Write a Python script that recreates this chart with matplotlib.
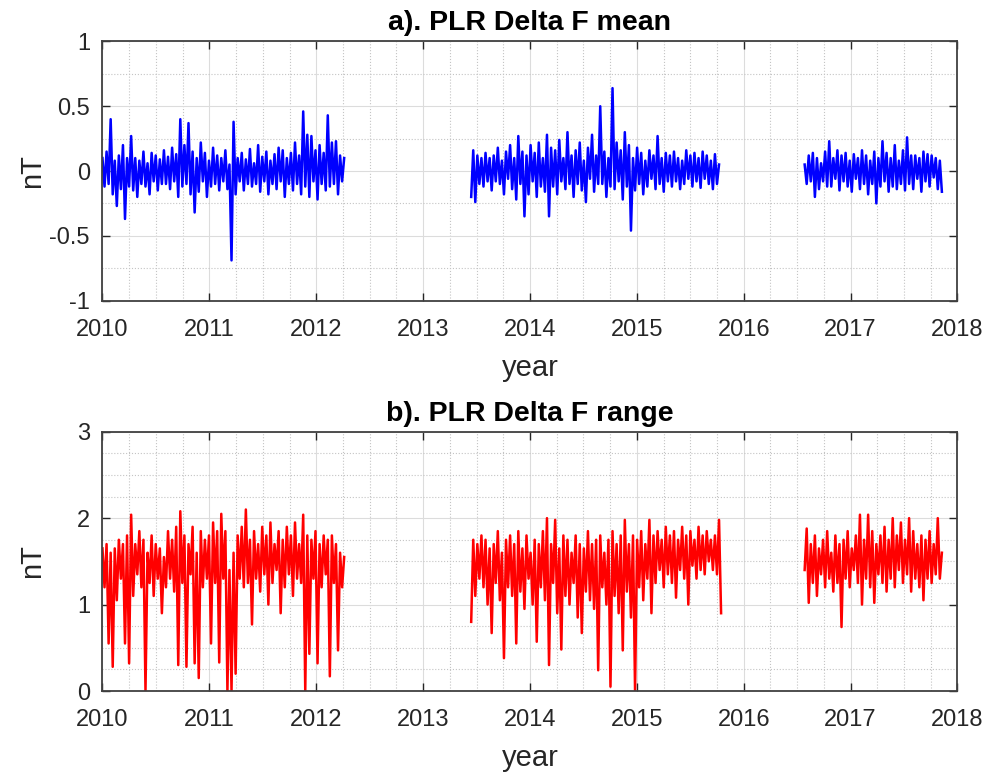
import matplotlib
matplotlib.use("Agg")
import matplotlib.pyplot as plt
from matplotlib.ticker import MultipleLocator, FuncFormatter
import numpy as np

plt.rcParams['font.family'] = ['Liberation Sans', 'DejaVu Sans']
plt.rcParams['axes.unicode_minus'] = False

# weekly samples, three data segments (decimal year of first sample)
step_days = 7
seg_start = [2010.0, 2013.45, 2016.57]

mean1 = [0.10, -0.12, 0.15, -0.10, 0.40, -0.18, 0.08, -0.27, 0.12, -0.14,
         0.20, -0.37, 0.10, -0.12, 0.27, -0.15, 0.10, -0.20, 0.08, -0.10,
         0.15, -0.12, 0.06, -0.18, 0.14, -0.08, 0.12, -0.15, 0.09, -0.10,
         0.16, -0.10, 0.11, -0.14, 0.18, -0.08, 0.13, -0.20, 0.40, -0.12,
         0.20, -0.10, 0.37, -0.18, 0.15, -0.32, 0.10, -0.16, 0.22, -0.08,
         0.14, -0.20, 0.08, -0.12, 0.18, -0.10, 0.12, -0.15, 0.10, -0.08,
         0.16, -0.14, 0.05, -0.69, 0.38, -0.18, 0.10, -0.08, 0.14, -0.15,
         0.09, -0.10, 0.17, -0.12, 0.06, -0.10, 0.20, -0.16, 0.11, -0.08,
         0.15, -0.18, 0.08, -0.10, 0.13, -0.14, 0.18, -0.08, 0.16, -0.20,
         0.10, -0.10, 0.14, -0.15, 0.22, -0.10, 0.12, -0.18, 0.46, -0.12,
         0.28, -0.20, 0.27, -0.08, 0.16, -0.22, 0.20, -0.10, 0.14, -0.15,
         0.43, -0.12, 0.22, -0.10, 0.23, -0.18, 0.12, -0.08, 0.10]
mean2 = [-0.20, 0.16, -0.24, 0.12, -0.10, 0.10, -0.12, 0.14, -0.08, 0.10,
         -0.15, 0.12, -0.08, 0.18, -0.10, 0.08, -0.18, 0.15, -0.06, 0.20,
         -0.14, 0.10, -0.22, 0.27, -0.10, 0.15, -0.35, 0.12, -0.18, 0.20,
         -0.08, 0.14, -0.20, 0.22, -0.12, 0.10, -0.16, 0.28, -0.35, 0.18,
         -0.12, 0.16, -0.18, 0.24, -0.08, 0.10, -0.14, 0.30, -0.10, 0.12,
         -0.20, 0.16, -0.10, 0.22, -0.15, 0.08, -0.24, 0.18, -0.06, 0.28,
         -0.16, 0.12, -0.10, 0.50, -0.10, 0.15, -0.20, 0.10, -0.12, 0.64,
         -0.14, 0.22, -0.08, 0.16, -0.22, 0.30, -0.12, 0.20, -0.46, 0.10,
         -0.15, 0.18, -0.10, 0.14, -0.18, 0.08, -0.12, 0.16, -0.06, 0.12,
         -0.14, 0.27, -0.10, 0.10, -0.16, 0.14, -0.08, 0.12, -0.12, 0.15,
         -0.08, 0.10, -0.14, 0.08, -0.10, 0.16, -0.06, 0.12, -0.12, 0.14,
         -0.08, 0.10, -0.13, 0.15, -0.06, 0.12, -0.10, 0.08, -0.14, 0.13,
         -0.10, 0.05]
mean3 = [0.05, -0.10, 0.12, -0.08, 0.14, -0.20, 0.10, -0.14, 0.06, -0.08,
         0.15, -0.12, 0.23, -0.12, 0.10, -0.06, 0.16, -0.15, 0.12, -0.08,
         0.14, -0.12, 0.08, -0.16, 0.13, -0.06, 0.10, -0.14, 0.16, -0.10,
         0.12, -0.18, 0.08, -0.10, 0.15, -0.25, 0.10, -0.12, 0.23, -0.08,
         0.14, -0.16, 0.10, -0.12, 0.20, -0.14, 0.08, -0.10, 0.16, -0.15,
         0.26, -0.10, 0.12, -0.14, 0.12, -0.06, 0.10, -0.16, 0.15, -0.08,
         0.13, -0.12, 0.12, -0.05, 0.10, -0.14, 0.08, -0.16]

range1 = [1.65, 1.20, 1.70, 0.55, 1.60, 0.28, 1.65, 1.05, 1.75, 1.30,
          1.70, 0.55, 1.80, 0.32, 2.04, 1.10, 1.70, 1.35, 1.85, 1.20,
          1.75, 0.00, 1.60, 1.25, 1.80, 1.10, 1.70, 1.30, 1.65, 0.90,
          1.55, 1.20, 1.85, 1.30, 1.75, 1.15, 1.90, 0.30, 2.08, 1.25,
          1.80, 0.28, 1.70, 1.35, 1.90, 0.32, 1.60, 0.15, 1.85, 1.20,
          1.75, 1.30, 1.80, 0.55, 1.95, 1.25, 1.85, 0.33, 2.05, 1.30,
          1.85, 0.00, 1.40, 0.00, 1.60, 0.20, 1.80, 1.30, 1.90, 1.20,
          2.10, 1.25, 1.75, 0.77, 1.85, 1.30, 1.70, 1.15, 1.90, 1.35,
          1.80, 1.00, 1.95, 1.25, 1.70, 1.40, 1.85, 0.90, 1.75, 1.20,
          1.90, 1.35, 1.80, 1.10, 1.95, 1.30, 1.70, 1.25, 2.04, 0.00,
          1.80, 0.43, 1.75, 1.30, 1.85, 0.32, 1.70, 1.20, 1.80, 1.35,
          1.75, 0.17, 1.80, 1.25, 1.70, 0.47, 1.60, 1.20, 1.55]
range2 = [0.80, 1.75, 1.10, 1.70, 1.30, 1.80, 1.20, 1.75, 1.00, 1.65,
          0.67, 1.70, 1.25, 1.85, 1.05, 1.60, 0.38, 1.75, 1.20, 1.80,
          1.10, 1.70, 0.55, 1.85, 1.15, 1.65, 0.95, 1.80, 1.30, 1.60,
          1.00, 1.75, 0.57, 1.70, 1.20, 1.85, 1.05, 2.00, 0.30, 1.70,
          1.25, 1.98, 0.90, 1.65, 0.48, 1.80, 1.10, 1.75, 1.00, 1.60,
          1.25, 1.80, 0.85, 1.70, 0.67, 1.65, 1.15, 1.85, 1.05, 1.70,
          0.95, 1.75, 0.24, 1.80, 1.20, 1.60, 1.00, 1.75, 0.05, 1.85,
          1.10, 1.70, 0.90, 1.80, 0.47, 1.98, 1.15, 1.70, 0.85, 1.80,
          0.00, 1.75, 1.20, 1.85, 1.05, 1.70, 1.30, 1.98, 0.90, 1.80,
          1.25, 1.85, 1.40, 1.75, 1.20, 1.90, 1.35, 1.80, 1.25, 1.85,
          1.08, 1.75, 1.40, 1.90, 1.30, 1.80, 1.00, 1.85, 1.45, 1.75,
          1.30, 1.90, 1.40, 1.80, 1.35, 1.85, 1.50, 1.75, 1.40, 1.80,
          1.35, 1.98, 0.90]
range3 = [1.40, 1.88, 1.02, 1.70, 1.25, 1.80, 1.10, 1.65, 1.35, 1.75,
          1.20, 1.85, 1.30, 1.60, 1.15, 1.80, 1.25, 1.70, 0.74, 1.75,
          1.30, 1.85, 1.20, 1.65, 1.40, 1.80, 1.25, 2.04, 1.00, 1.75,
          1.30, 2.04, 1.20, 1.85, 1.02, 1.70, 1.35, 1.80, 1.25, 1.90,
          1.15, 1.75, 1.30, 2.00, 1.20, 1.80, 1.40, 1.95, 1.25, 1.75,
          1.35, 2.00, 1.15, 1.85, 1.30, 1.70, 1.20, 1.80, 1.05, 1.75,
          1.30, 1.85, 1.25, 1.70, 1.35, 2.00, 1.30, 1.60]

years = list(range(2010, 2019))


def seg_x(start, vals):
    return start + np.arange(len(vals)) * step_days / 365.25


def style_axes(ax, ylim, ymajor, title):
    txt = '#262626'
    ax.set_xlim(2010, 2018)
    ax.set_ylim(*ylim)
    ax.set_xticks(years)
    ax.set_xticklabels([str(y) for y in years])
    ax.yaxis.set_major_locator(MultipleLocator(ymajor))
    ax.yaxis.set_major_formatter(FuncFormatter(lambda v, p: '%g' % v))
    ax.xaxis.set_minor_locator(MultipleLocator(0.25))
    ax.yaxis.set_minor_locator(MultipleLocator(0.25))
    ax.grid(True, which='major', color='#dcdcdc', linewidth=0.8)
    ax.grid(True, which='minor', color='#c4c4c4', linestyle=':', linewidth=0.8)
    ax.set_axisbelow(True)
    ax.tick_params(which='major', direction='in', top=True, right=True,
                   length=6, width=1, colors=txt, labelsize=17)
    ax.tick_params(axis='x', which='major', pad=13)
    ax.tick_params(axis='y', which='major', pad=9)
    ax.tick_params(which='minor', length=0)
    for s in ax.spines.values():
        s.set_color('#404040')
        s.set_linewidth(1.3)
    ax.set_title(title, fontsize=20.5, fontweight='bold', pad=8)
    ax.set_xlabel('year', fontsize=21, color=txt)
    ax.set_ylabel('nT', fontsize=21, color=txt)
    ax.xaxis.set_label_coords(0.5, -0.205)
    ax.yaxis.set_label_coords(-0.066, 0.5)


fig = plt.figure(figsize=(9.92, 7.8), dpi=100)
ax1 = fig.add_axes([0.1033, 0.6147, 0.8619, 0.3321])
ax2 = fig.add_axes([0.1033, 0.1141, 0.8619, 0.3324])

for st, v in zip(seg_start, [mean1, mean2, mean3]):
    ax1.plot(seg_x(st, v), v, color='#0000ff', linewidth=1.8)
for st, v in zip(seg_start, [range1, range2, range3]):
    ax2.plot(seg_x(st, v), v, color='#ff0000', linewidth=1.8)

style_axes(ax1, (-1, 1), 0.5, 'a). PLR Delta F mean')
style_axes(ax2, (0, 3), 1, 'b). PLR Delta F range')

fig.savefig('out.png', dpi=100)
